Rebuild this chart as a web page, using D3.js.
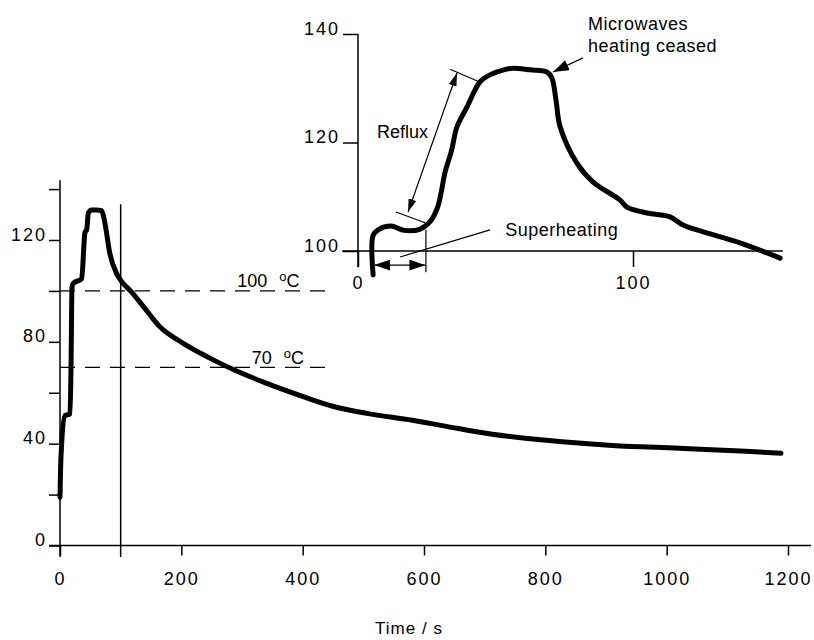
<!DOCTYPE html>
<html>
<head>
<meta charset="utf-8">
<script src="https://cdn.jsdelivr.net/npm/d3@7"></script>
<style>
body { margin: 0; background: #fff; }
svg { display: block; font-family: "Liberation Sans", Arial, sans-serif; }
.curve { fill: none; stroke: #000; stroke-width: 5; stroke-linejoin: round; stroke-linecap: round; }
.ax { stroke: #000; stroke-width: 1.5; fill: none; }
.thin { stroke: #000; stroke-width: 1.2; fill: none; }
</style>
</head>
<body>
<div id="svgs"></div>
<script>
// main run, whole 20 minutes
var mainTime = [0, 1.6, 8.2, 16.5, 18.1, 19.8, 22, 35.7, 41.2, 44, 46.7, 52, 60, 68.7, 74, 82, 93, 98.8, 118.5,
  135, 164.6, 202.5, 246.9, 284.8, 340.7, 395, 449.4, 505.3, 581.1, 637, 712.8, 801.6, 910.3, 1020.6, 1130.9, 1188.5];
var mainTemp = [19, 34.7, 51, 51.7, 68.7, 101.5, 103, 104.8, 123, 124, 130.6, 131.8, 131.8, 131.5, 126.7, 114.9, 107, 104.6, 99.4,
  94.6, 85.9, 79.5, 73.6, 69.2, 63.7, 59, 54.7, 51.9, 49.2, 46.8, 43.7, 41.3, 39.3, 38.2, 37, 36.2];

// inset, first 150 s
var insetTime = [5.5, 5.5, 7.3, 12, 16.8, 22.4, 26.2, 28.9, 30.4, 31.6, 34, 36, 39.6, 44.4, 48.5, 53, 56.4, 62.5, 68.7, 70.5,
  72, 73.5, 79.6, 85.5, 95.3, 97.8, 105.1, 113.5, 118.2, 129.1, 138.9, 153.5];
var insetTemp = [95.6, 102.9, 103.9, 104.6, 103.8, 104, 105.4, 108, 111.2, 114.4, 118.5, 122.9, 126.5, 131.2, 132.6, 133.4, 133.7, 133.4, 133, 131.9,
  127.8, 122.9, 116.2, 112.7, 109.4, 108.1, 107, 106.3, 104.8, 103, 101.5, 98.7];

var mainXTicks = [0, 200, 400, 600, 800, 1000, 1200];
var mainYTicks = [0, 20, 40, 60, 80, 100, 120, 140];
var mainYLabels = [0, 40, 80, 120];
var insetXTicks = [0, 100];
var insetYTicks = [100, 120, 140];
var refTemps = [100, 70];
var refTempLabels = ["100", "70"];
var refLabelTime = [292, 316];
var cutoffTime = 100;

var svg = d3.select("#svgs").append("svg").attr("width", 814).attr("height", 640);

var x = d3.scaleLinear().domain([0, 1200]).range([60, 788]);
var y = d3.scaleLinear().domain([0, 120]).range([545.5, 240]);
var xi = d3.scaleLinear().domain([0, 100]).range([358, 633]);
var yi = d3.scaleLinear().domain([100, 140]).range([251, 34]);

var defs = svg.append("defs");
function marker(id, w, h) {
  defs.append("marker")
    .attr("id", id)
    .attr("viewBox", "0 0 " + w + " " + h)
    .attr("refX", w)
    .attr("refY", h / 2)
    .attr("markerWidth", w)
    .attr("markerHeight", h)
    .attr("markerUnits", "userSpaceOnUse")
    .attr("orient", "auto-start-reverse")
    .append("path")
    .attr("d", "M0,0L" + w + "," + h / 2 + "L0," + h + "Z")
    .attr("fill", "#000");
}
marker("ah", 13, 8);
marker("ahBig", 16, 11);

function styleTicks(g, size, spacing) {
  g.select(".domain").remove();
  g.attr("font-family", null).attr("font-size", null);
  g.selectAll(".tick line").attr("stroke-width", 1.5);
  g.selectAll(".tick text")
    .attr("font-size", size)
    .attr("letter-spacing", spacing)
    .attr("fill", "#000");
}

// ---- main chart ----
svg.append("g")
  .attr("transform", "translate(" + x(0) + ",0)")
  .call(d3.axisLeft(y).tickValues(mainYTicks).tickSize(11).tickPadding(2)
    .tickFormat(function (d) { return mainYLabels.indexOf(d) >= 0 ? d : ""; }))
  .call(function (g) {
    styleTicks(g, 18, 2);
    g.selectAll(".tick text").attr("dy", 0);
  });

svg.append("g")
  .attr("transform", "translate(0," + y(0) + ")")
  .call(d3.axisBottom(x).tickValues(mainXTicks).tickSize(10).tickFormat(d3.format("d")))
  .call(function (g) {
    styleTicks(g, 18, 2);
    g.selectAll(".tick text").attr("y", 39).attr("dy", 0);
  });

svg.append("line").attr("class", "ax")
  .attr("x1", x(0)).attr("x2", x(0)).attr("y1", y(143.5)).attr("y2", y(-4.5));
svg.append("line").attr("class", "ax")
  .attr("x1", x(-18)).attr("x2", x(1238)).attr("y1", y(0)).attr("y2", y(0));
svg.append("line").attr("class", "ax")
  .attr("x1", x(cutoffTime)).attr("x2", x(cutoffTime)).attr("y1", y(134)).attr("y2", y(-4.5));

refTemps.forEach(function (t, i) {
  svg.append("line").attr("class", "thin")
    .attr("x1", x(0)).attr("x2", x(445))
    .attr("y1", y(t)).attr("y2", y(t))
    .attr("stroke-dasharray", "15,10");
  var lab = svg.append("text")
    .attr("x", x(refLabelTime[i]))
    .attr("y", y(t) - 3.5)
    .attr("font-size", 18);
  lab.append("tspan").text(refTempLabels[i]);
  lab.append("tspan").attr("dx", 12).attr("dy", -6).attr("font-size", 13).text("o");
  lab.append("tspan").attr("dy", 6).text("C");
});

svg.append("path")
  .datum(d3.range(mainTime.length))
  .attr("class", "curve")
  .attr("d", d3.line()
    .curve(d3.curveMonotoneX)
    .x(function (i) { return x(mainTime[i]); })
    .y(function (i) { return y(mainTemp[i]); }));

svg.append("text")
  .attr("x", 409).attr("y", 634)
  .attr("text-anchor", "middle")
  .attr("font-size", 17)
  .attr("letter-spacing", 1)
  .text("Time / s");

// ---- inset ----
svg.append("g")
  .attr("transform", "translate(" + xi(0) + ",0)")
  .call(d3.axisLeft(yi).tickValues(insetYTicks).tickSize(15).tickPadding(3))
  .call(function (g) {
    styleTicks(g, 18, 2);
    g.selectAll(".tick text").attr("dy", 0);
  });

svg.append("g")
  .attr("transform", "translate(0," + yi(100) + ")")
  .call(d3.axisBottom(xi).tickValues(insetXTicks).tickSize(16))
  .call(function (g) {
    styleTicks(g, 18, 2);
    g.selectAll(".tick text").attr("y", 38).attr("dy", 0);
  });

svg.append("line").attr("class", "ax")
  .attr("x1", xi(0)).attr("x2", xi(0)).attr("y1", yi(140)).attr("y2", yi(97));
svg.append("line").attr("class", "ax")
  .attr("x1", xi(-5.8)).attr("x2", xi(154.5)).attr("y1", yi(100)).attr("y2", yi(100));

svg.append("path")
  .datum(d3.range(insetTime.length))
  .attr("class", "curve")
  .attr("d", d3.line()
    .curve(d3.curveCatmullRom.alpha(0.5))
    .x(function (i) { return xi(insetTime[i]); })
    .y(function (i) { return yi(insetTemp[i]); }));

// reflux
svg.append("line").attr("class", "thin")
  .attr("x1", xi(18.2)).attr("y1", yi(107.2))
  .attr("x2", xi(36)).attr("y2", yi(132.8))
  .attr("marker-start", "url(#ah)")
  .attr("marker-end", "url(#ah)");
svg.append("line").attr("class", "thin")
  .attr("x1", xi(33.5)).attr("y1", yi(133.5)).attr("x2", xi(43.6)).attr("y2", yi(131.3));
svg.append("line").attr("class", "thin")
  .attr("x1", xi(13.8)).attr("y1", yi(107.2)).attr("x2", xi(24.4)).attr("y2", yi(105.2));
svg.append("text")
  .attr("x", xi(6.9)).attr("y", yi(120.8))
  .attr("font-size", 18)
  .text("Reflux");

// superheating
svg.append("line").attr("class", "thin")
  .attr("x1", xi(5.9)).attr("y1", yi(97.4))
  .attr("x2", xi(24.5)).attr("y2", yi(97.4))
  .attr("stroke-width", 1.6)
  .attr("marker-start", "url(#ahBig)")
  .attr("marker-end", "url(#ahBig)");
svg.append("line").attr("class", "thin")
  .attr("x1", xi(24.7)).attr("y1", yi(103.9)).attr("x2", xi(24.7)).attr("y2", yi(96.1));
svg.append("line").attr("class", "thin")
  .attr("x1", xi(15.3)).attr("y1", yi(98.9)).attr("x2", xi(48)).attr("y2", yi(103.9));
svg.append("text")
  .attr("x", xi(53.5)).attr("y", yi(102.8))
  .attr("font-size", 18)
  .attr("letter-spacing", 0.5)
  .text("Superheating");

// microwaves off
svg.append("line").attr("class", "thin")
  .attr("x1", xi(81.8)).attr("y1", yi(135.6))
  .attr("x2", xi(70.9)).attr("y2", yi(133))
  .attr("stroke-width", 1.6)
  .attr("marker-end", "url(#ahBig)");
svg.append("text")
  .attr("x", xi(83.6)).attr("y", yi(140.7))
  .attr("font-size", 18)
  .attr("letter-spacing", 0.5)
  .text("Microwaves");
svg.append("text")
  .attr("x", xi(83.6)).attr("y", yi(136.7))
  .attr("font-size", 18)
  .attr("letter-spacing", 0.5)
  .text("heating ceased");
</script>
</body>
</html>
